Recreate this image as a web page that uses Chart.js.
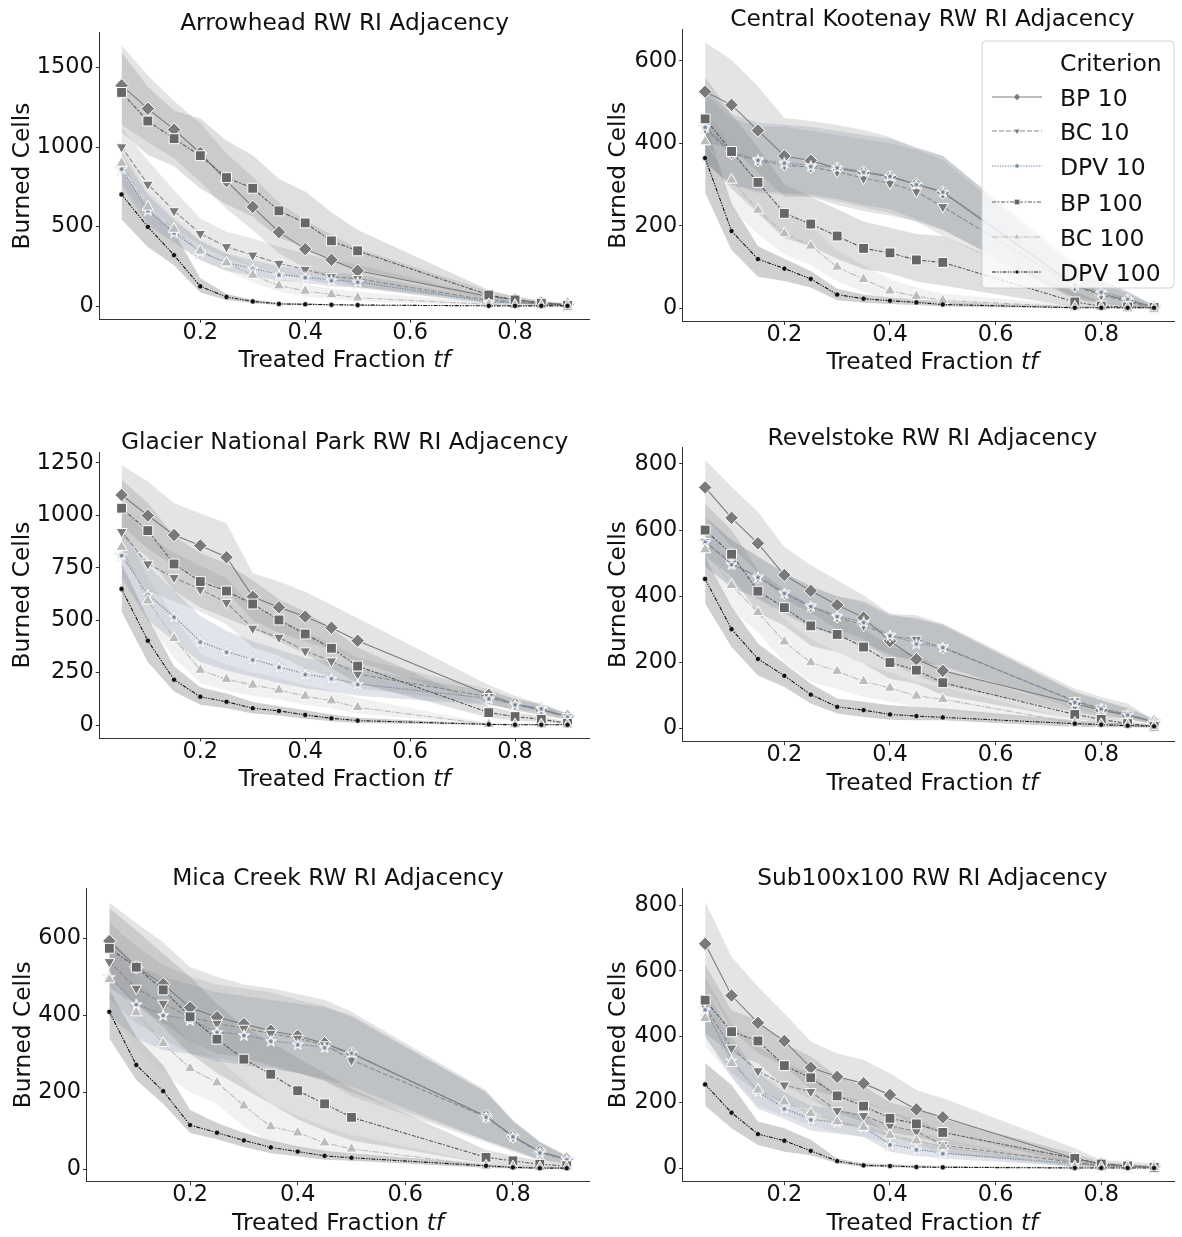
<!DOCTYPE html>
<html><head><meta charset="utf-8">
<script src="https://cdn.jsdelivr.net/npm/chart.js@4/dist/chart.umd.min.js"></script>
<style>
html,body{margin:0;padding:0;background:#fff;overflow:hidden;width:1182px;height:1237px;position:relative}
canvas{position:absolute}
</style></head><body>
<script>
// ---------- DATA ----------
const xValues = [0.05,0.1,0.15,0.2,0.25,0.3,0.35,0.4,0.45,0.5,0.75,0.8,0.85,0.9];
const xTicks = [0.2,0.4,0.6,0.8];
const seriesNames = ['BP 10','BC 10','DPV 10','BP 100','BC 100','DPV 100'];
const legendTitle = 'Criterion';
const panelTitles = ['Arrowhead RW RI Adjacency','Central Kootenay RW RI Adjacency','Glacier National Park RW RI Adjacency','Revelstoke RW RI Adjacency','Mica Creek RW RI Adjacency','Sub100x100 RW RI Adjacency'];
const xAxisLabel = 'Treated Fraction ';
const xAxisLabelItalic = 'tf';
const yAxisLabel = 'Burned Cells';
const yTickLists = [[0,500,1000,1500],[0,200,400,600],[0,250,500,750,1000,1250],[0,200,400,600,800],[0,200,400,600],[0,200,400,600,800]];

// rows: BP 10, BC 10, DPV 10, BP 100, BC 100, DPV 100
const arrowheadMean = [
 [1388,1242,1110,963,787,624,465,358,291,222,60,40,20,10],
 [1001,766,599,456,373,320,268,230,184,172,35,25,15,8],
 [865,603,463,341,272,237,199,182,163,153,25,20,12,8],
 [1344,1164,1053,946,808,741,599,523,410,347,69,38,17,4],
 [900,624,484,347,272,195,128,94,73,52,10,5,3,2],
 [702,498,320,124,57,29,13,11,8,6,1,1,1,1]];
const arrowheadLow = [
 [1140,1030,930,780,610,478,330,240,180,120,30,18,8,3],
 [880,640,490,380,300,250,200,170,135,120,18,12,8,3],
 [760,510,400,290,220,190,160,145,125,115,12,10,6,4],
 [1095,950,880,740,640,561,430,370,280,230,42,20,8,1],
 [800,540,400,290,220,150,90,60,45,30,3,1,1,0],
 [545,372,257,85,38,18,6,5,3,2,0,0,0,0]];
const arrowheadHigh = [
 [1640,1450,1290,1150,960,812,650,540,450,360,95,60,35,18],
 [1120,917,729,551,467,425,373,330,290,260,60,40,25,14],
 [960,700,540,410,330,290,250,230,210,200,45,32,20,12],
 [1595,1380,1230,1180,1040,948,800,720,590,478,100,60,30,10],
 [1000,720,560,410,330,250,175,135,110,90,20,10,6,4],
 [855,613,468,174,75,40,20,16,12,9,3,2,2,2]];

const kootenayMean = [
 [525,493,431,369,358,339,329,319,300,281,55,35,19,3],
 [436,375,358,347,342,331,315,303,283,246,53,32,15,2],
 [440,378,360,353,345,342,331,321,301,283,58,40,23,2],
 [459,380,305,230,204,175,145,134,117,111,15,5,3,2],
 [404,311,238,181,151,100,70,42,29,19,3,2,1,1],
 [364,187,119,96,71,33,23,18,14,9,1,1,1,1]];
const kootenayLow = [
 [400,390,330,270,270,250,235,225,210,190,20,10,4,0],
 [350,300,280,275,270,260,245,230,210,175,25,12,5,0],
 [350,300,285,280,275,265,250,240,215,190,25,15,8,0],
 [360,290,230,170,150,120,95,85,65,55,3,1,0,0],
 [330,240,180,130,105,65,40,20,12,8,0,0,0,0],
 [280,141,76,66,50,19,13,10,8,4,0,0,0,0]];
const kootenayHigh = [
 [645,602,538,461,454,444,432,415,388,369,110,70,40,8],
 [520,460,440,440,430,420,410,400,385,360,95,60,35,6],
 [530,470,450,445,440,430,420,410,390,370,100,70,40,6],
 [560,470,390,300,270,240,210,195,180,175,40,15,8,4],
 [480,390,300,240,200,140,105,70,50,35,8,4,2,2],
 [450,254,150,120,90,47,33,26,21,16,3,2,2,2]];

const glacierMean = [
 [1097,999,906,856,800,612,561,517,464,402,143,100,72,40],
 [922,768,703,647,584,461,418,353,305,243,135,95,72,40],
 [811,623,517,398,350,313,278,243,223,196,127,99,80,40],
 [1034,927,768,684,639,577,501,434,366,281,59,40,27,8],
 [848,593,413,262,218,191,167,138,116,84,3,2,2,1],
 [649,402,216,135,111,80,67,48,32,21,3,1,1,1]];
const glacierLow = [
 [950,840,760,700,640,500,440,400,360,300,100,70,45,25],
 [800,640,590,540,480,370,330,270,230,175,100,70,50,25],
 [700,500,400,300,260,230,200,175,160,140,95,75,60,25],
 [900,800,640,560,510,460,400,340,270,200,35,22,14,3],
 [730,490,320,200,165,140,120,95,80,55,0,0,0,0],
 [540,300,160,96,80,55,45,30,18,10,0,0,0,0]];
const glacierHigh = [
 [1240,1161,1058,1010,962,724,684,636,573,509,191,140,100,55],
 [1050,900,820,760,700,560,510,440,390,320,170,125,95,55],
 [930,760,640,520,450,400,360,320,300,270,160,125,100,55],
 [1170,1060,900,820,770,690,600,540,460,370,90,60,40,15],
 [960,700,520,340,290,250,225,190,165,130,8,5,4,3],
 [770,510,280,180,150,110,90,70,50,35,6,3,2,2]];

const revelstokeMean = [
 [729,637,560,464,416,373,335,264,209,174,75,55,39,19],
 [565,499,457,408,368,337,312,279,269,244,83,60,42,19],
 [565,497,459,410,370,340,322,282,257,246,80,60,42,21],
 [600,527,415,365,310,284,246,199,176,138,42,27,14,6],
 [541,433,351,262,199,173,142,122,98,88,16,12,9,5],
 [452,300,210,159,102,65,55,42,37,33,14,11,8,6]];
const revelstokeLow = [
 [640,550,470,390,350,300,270,200,160,130,50,35,25,12],
 [490,430,390,345,305,280,250,220,205,185,60,40,28,12],
 [490,425,395,350,310,280,260,225,200,190,58,40,28,13],
 [520,460,350,310,250,230,195,150,135,100,28,17,8,3],
 [470,360,290,200,140,120,95,80,65,55,8,6,5,3],
 [378,246,160,125,75,45,34,26,24,24,4,4,3,2]];
const revelstokeHigh = [
 [812,731,655,549,494,448,403,347,342,317,120,95,75,24],
 [640,570,520,470,430,400,380,340,335,310,110,85,60,28],
 [640,570,520,470,430,400,385,345,330,315,110,85,62,28],
 [680,600,480,420,370,340,300,250,220,180,60,40,22,10],
 [610,510,420,330,270,230,195,170,140,125,25,18,13,8],
 [519,368,257,196,135,90,80,70,65,60,24,18,14,10]];

const micaMean = [
 [593,525,481,420,395,377,360,346,327,301,138,86,46,26],
 [539,470,431,395,379,366,353,340,323,284,136,84,44,24],
 [500,429,401,388,357,349,334,325,317,303,137,86,44,26],
 [574,525,466,396,338,286,247,204,170,135,31,22,13,9],
 [493,407,327,262,225,165,111,95,69,53,9,7,5,5],
 [409,271,203,115,95,75,57,46,35,30,9,5,3,3]];
const micaLow = [
 [500,430,380,330,300,290,270,250,230,200,75,50,25,15],
 [440,380,340,300,290,275,265,250,230,190,70,45,22,14],
 [400,340,310,300,280,270,260,250,235,215,75,50,25,15],
 [470,430,370,300,250,210,170,130,100,75,15,10,6,4],
 [400,320,250,200,170,110,70,55,40,25,3,2,2,2],
 [340,232,170,94,78,58,42,34,25,22,4,2,1,1]];
const micaHigh = [
 [692,640,590,525,500,480,470,455,440,409,206,128,72,35],
 [640,580,530,500,480,470,460,440,425,395,200,125,70,33],
 [600,530,500,480,460,450,440,430,420,400,200,125,70,35],
 [678,620,560,500,430,370,330,290,250,210,50,35,22,15],
 [590,500,410,330,290,230,170,140,110,90,15,12,9,8],
 [466,344,270,154,120,95,75,60,48,42,14,9,6,5]];

const subMean = [
 [682,525,442,387,306,278,258,223,179,155,30,13,7,4],
 [491,365,296,253,233,175,160,129,112,71,17,10,7,4],
 [483,329,233,182,149,140,125,73,58,46,14,7,5,4],
 [511,415,387,312,275,220,189,152,135,109,30,13,7,3],
 [456,319,238,202,167,142,125,101,84,66,5,3,3,3],
 [255,169,104,84,53,22,9,7,4,3,1,1,1,1]];
const subLow = [
 [560,420,350,310,240,215,200,170,130,110,12,5,3,1],
 [400,290,230,195,180,135,120,95,75,45,8,4,3,1],
 [400,275,180,150,115,105,95,50,38,30,6,3,2,1],
 [410,350,320,250,210,170,140,110,95,75,18,6,3,1],
 [370,280,190,160,130,110,95,75,60,45,2,1,1,1],
 [190,122,71,50,40,15,4,3,2,1,0,0,0,0]];
const subHigh = [
 [810,643,552,471,385,349,329,289,238,213,61,25,20,15],
 [580,440,370,320,290,220,205,170,150,110,30,16,12,8],
 [560,400,290,230,190,180,160,100,85,70,24,13,9,7],
 [620,480,450,380,340,280,250,200,180,150,45,20,12,6],
 [540,380,290,250,210,180,160,130,110,90,10,6,5,5],
 [320,253,142,122,87,30,15,12,9,7,3,2,2,2]];

const panelMeans = [arrowheadMean, kootenayMean, glacierMean, revelstokeMean, micaMean, subMean];
const panelLows  = [arrowheadLow, kootenayLow, glacierLow, revelstokeLow, micaLow, subLow];
const panelHighs = [arrowheadHigh, kootenayHigh, glacierHigh, revelstokeHigh, micaHigh, subHigh];

// ---------- STYLE / LAYOUT ----------
const FONT = "'DejaVu Sans'";
const TICK_SIZE = 22.4, LABEL_SIZE = 23.3, LEGEND_SIZE = 23.5;
const TXT = '#111';
const lineColors = ['#7c7c7c','#8a8a8a','#6f829d','#585858','#b9b9b9','#151515'];
const markerFill = ['#7a7a7a','#7a7a7a','#6a7f9c','#676767','#bcbcbc','#111111'];
const bandColors = ['rgba(122,122,122,0.2)','rgba(138,138,138,0.2)','rgba(106,127,156,0.2)','rgba(96,96,96,0.2)','rgba(185,185,185,0.2)','rgba(20,20,20,0.2)'];
const dashes = [[],[5,2],[1.3,1.3],[4,1.6,1.8,1.6],[6,1.5,1.5,1.5],[4,1.3,1.3,1.3,1.3,1.3]];

// canvas box (cx,cy,cw,ch) and axes box (L,R,T,B) in page pixels, axis limits
const layouts = [
 {cx:0,  cy:0,   cw:600, ch:420, L:99.3,  R:589.8, T:32.7,  B:319.3,  xmin:0.0075, xmax:0.9425, ymin:-83.7, ymax:1720, ylx:21},
 {cx:600,cy:0,   cw:582, ch:420, L:682.7, R:1182,  T:29,    B:321.5,  xmin:0.0075, xmax:0.9378, ymin:-32.3, ymax:677,  ylx:617},
 {cx:0,  cy:420, cw:600, ch:420, L:99.3,  R:589.8, T:452,   B:738,    xmin:0.0075, xmax:0.9425, ymin:-62,   ymax:1302, ylx:21},
 {cx:600,cy:420, cw:582, ch:420, L:682.7, R:1182,  T:447.3, B:741.7,  xmin:0.0075, xmax:0.9378, ymin:-40.6, ymax:850.5,ylx:617},
 {cx:0,  cy:840, cw:600, ch:397, L:86.5,  R:589.6, T:888,   B:1181.7, xmin:0.0075, xmax:0.9425, ymin:-32.2, ymax:730.6,ylx:22},
 {cx:600,cy:840, cw:582, ch:397, L:682.7, R:1182,  T:888,   B:1181.7, xmin:0.0075, xmax:0.9378, ymin:-40.7, ymax:851.7,ylx:617}
];

function starPath(g, x, y, R, r){
  g.beginPath();
  for (let k = 0; k < 10; k++) {
    const a = -Math.PI/2 + k*Math.PI/5, rr = (k % 2) ? r : R;
    g.lineTo(x + rr*Math.cos(a), y + rr*Math.sin(a));
  }
  g.closePath();
}
function makeStar(R, r, fill, innerScale){
  const s = 2*Math.ceil(R + 3);
  const c = document.createElement('canvas'); c.width = s; c.height = s;
  const g = c.getContext('2d');
  const cx = s/2, cy = s/2 + 0.6;
  starPath(g, cx, cy, R, r);
  g.strokeStyle = 'rgba(150,150,150,0.5)'; g.lineWidth = 0.8; g.lineJoin = 'miter'; g.stroke();
  g.fillStyle = '#ffffff'; g.fill();
  starPath(g, cx, cy, R*innerScale, r*innerScale);
  g.fillStyle = fill; g.fill();
  return c;
}
const starImg = makeStar(7.2, 3.0, '#6a7f9c', 0.45);

const pStyles = ['rectRot','triangle',starImg,'rect','triangle','circle'];
const pRadius = [6.8,6.3,6,7,6.5,2.6];
const pRot = [0,180,0,0,0,0];
const pBorderW = [1,1,0,1,1,0.6];

function pts(arr){ return xValues.map((x,i)=>({x:x, y:arr[i]})); }

function drawMarker(ctx, k, x, y, r){
  ctx.save();
  ctx.fillStyle = markerFill[k]; ctx.strokeStyle = '#fff'; ctx.lineWidth = 0.6;
  ctx.beginPath();
  if (k === 0) { ctx.moveTo(x-r,y); ctx.lineTo(x,y-r); ctx.lineTo(x+r,y); ctx.lineTo(x,y+r); ctx.closePath(); }
  else if (k === 1) { ctx.moveTo(x-r*0.87,y-r*0.5); ctx.lineTo(x+r*0.87,y-r*0.5); ctx.lineTo(x,y+r); ctx.closePath(); }
  else if (k === 2) { for (let q=0;q<10;q++){const a=-Math.PI/2+q*Math.PI/5, rr=(q%2)?r*0.42:r; ctx.lineTo(x+rr*Math.cos(a), y+rr*Math.sin(a));} ctx.closePath(); }
  else if (k === 3) { ctx.rect(x-r*0.75,y-r*0.75,r*1.5,r*1.5); }
  else if (k === 4) { ctx.moveTo(x-r*0.87,y+r*0.5); ctx.lineTo(x+r*0.87,y+r*0.5); ctx.lineTo(x,y-r); ctx.closePath(); }
  else { ctx.arc(x,y,r*0.75,0,Math.PI*2); }
  ctx.fill(); ctx.stroke();
  ctx.restore();
}

function textPlugin(p){
  const lay = layouts[p];
  return {
    id: 'txt'+p,
    afterDraw(chart){
      const ctx = chart.ctx;
      ctx.save();
      ctx.fillStyle = TXT;
      ctx.font = LABEL_SIZE + 'px ' + FONT;
      ctx.textAlign = 'center'; ctx.textBaseline = 'alphabetic';
      const cxm = (lay.L + lay.R)/2 - lay.cx;
      ctx.fillText(panelTitles[p], cxm, lay.T - 11 + 0.3645*LABEL_SIZE - lay.cy);
      const fN = LABEL_SIZE + 'px ' + FONT, fI = 'italic ' + LABEL_SIZE + 'px ' + FONT;
      ctx.font = fN; const w1 = ctx.measureText(xAxisLabel).width;
      ctx.font = fI; const w2 = ctx.measureText(xAxisLabelItalic).width;
      const x0 = cxm - (w1 + w2)/2, yb = lay.B + 39.5 + 0.3645*LABEL_SIZE - lay.cy;
      ctx.textAlign = 'left';
      ctx.font = fN; ctx.fillText(xAxisLabel, x0, yb);
      ctx.font = fI; ctx.fillText(xAxisLabelItalic, x0 + w1, yb);
      ctx.font = fN; ctx.textAlign = 'center';
      ctx.translate(lay.ylx - lay.cx, (lay.T + lay.B)/2 - lay.cy);
      ctx.rotate(-Math.PI/2);
      ctx.fillText(yAxisLabel, 0, 0.3645*LABEL_SIZE);
      ctx.restore();
      if (p === 1) drawLegend(ctx, lay);
    }
  };
}

function drawLegend(ctx, lay){
  const ox = -lay.cx, oy = -lay.cy;
  const bx = 982 + ox, by = 41 + oy, bw = 192, bh = 247, rr = 4;
  ctx.save();
  ctx.beginPath();
  ctx.moveTo(bx+rr,by); ctx.lineTo(bx+bw-rr,by); ctx.quadraticCurveTo(bx+bw,by,bx+bw,by+rr);
  ctx.lineTo(bx+bw,by+bh-rr); ctx.quadraticCurveTo(bx+bw,by+bh,bx+bw-rr,by+bh);
  ctx.lineTo(bx+rr,by+bh); ctx.quadraticCurveTo(bx,by+bh,bx,by+bh-rr);
  ctx.lineTo(bx,by+rr); ctx.quadraticCurveTo(bx,by,bx+rr,by); ctx.closePath();
  ctx.fillStyle = 'rgba(255,255,255,0.8)'; ctx.fill();
  ctx.strokeStyle = 'rgba(200,200,200,0.8)'; ctx.lineWidth = 1; ctx.stroke();
  const rowsY = [62, 97, 131, 166, 202, 237, 272];
  ctx.font = LEGEND_SIZE + 'px ' + FONT; ctx.fillStyle = TXT;
  ctx.textAlign = 'left'; ctx.textBaseline = 'alphabetic';
  ctx.fillText(legendTitle, 1060 + ox, rowsY[0] + 0.3645*LEGEND_SIZE + oy);
  for (let k = 0; k < 6; k++) {
    const y = rowsY[k+1] + oy;
    ctx.save();
    ctx.strokeStyle = lineColors[k]; ctx.lineWidth = 1.1; ctx.setLineDash(dashes[k]);
    ctx.beginPath(); ctx.moveTo(992 + ox, y); ctx.lineTo(1042 + ox, y); ctx.stroke();
    ctx.restore();
    drawMarker(ctx, k, 1017 + ox, y, k === 5 ? 2.6 : 3.6);
    ctx.fillStyle = TXT;
    ctx.fillText(seriesNames[k], 1060 + ox, rowsY[k+1] + 0.3645*LEGEND_SIZE + oy);
  }
  ctx.restore();
}

for (let p = 0; p < 6; p++) {
  const lay = layouts[p];
  const cv = document.createElement('canvas');
  cv.width = lay.cw; cv.height = lay.ch;
  cv.style.left = lay.cx + 'px'; cv.style.top = lay.cy + 'px';
  cv.style.width = lay.cw + 'px'; cv.style.height = lay.ch + 'px';
  document.body.appendChild(cv);

  const datasets = [];
  for (let k = 0; k < 6; k++) {
    datasets.push({ data: pts(panelHighs[p][k]), borderColor: 'rgba(0,0,0,0)', borderWidth: 0.01,
      pointRadius: 0, backgroundColor: bandColors[k], fill: '+1', tension: 0, order: 100 });
    datasets.push({ data: pts(panelLows[p][k]), borderColor: 'rgba(0,0,0,0)', borderWidth: 0.01,
      pointRadius: 0, fill: false, tension: 0, order: 100 });
  }
  for (let k = 0; k < 6; k++) {
    datasets.push({ label: seriesNames[k], data: pts(panelMeans[p][k]),
      borderColor: lineColors[k], borderWidth: 1.1, borderDash: dashes[k], fill: false, tension: 0,
      pointStyle: pStyles[k], pointRadius: pRadius[k], pointRotation: pRot[k],
      pointBackgroundColor: markerFill[k], pointBorderColor: '#fff', pointBorderWidth: pBorderW[k],
      order: 10 - k });
  }

  const tickFont = { family: FONT, size: TICK_SIZE, lineHeight: 1 };
  new Chart(cv, {
    type: 'line',
    data: { datasets },
    options: {
      responsive: false, animation: false, events: [],
      layout: { padding: { left: 0, top: lay.T - lay.cy, right: lay.cx + lay.cw - lay.R, bottom: lay.cy + lay.ch - lay.B - 30 } },
      plugins: { legend: { display: false }, tooltip: { enabled: false }, title: { display: false },
                 filler: { drawTime: 'beforeDatasetsDraw', propagate: false } },
      scales: {
        x: { type: 'linear', min: lay.xmin, max: lay.xmax,
             afterBuildTicks: s => { s.ticks = xTicks.map(v => ({ value: v })); },
             afterFit: s => { s.height = 30; },
             grid: { drawOnChartArea: false, tickLength: 3.5, color: '#333', lineWidth: 1 },
             border: { display: true, color: '#333', width: 1 },
             ticks: { font: tickFont, color: TXT, padding: -1, maxRotation: 0, minRotation: 0, autoSkip: false,
                      callback: v => Number(v).toFixed(1) } },
        y: { type: 'linear', min: lay.ymin, max: lay.ymax,
             afterBuildTicks: s => { s.ticks = yTickLists[p].map(v => ({ value: v })); },
             afterFit: s => { s.width = lay.L - lay.cx; },
             grid: { drawOnChartArea: false, tickLength: 3.5, color: '#333', lineWidth: 1 },
             border: { display: true, color: '#333', width: 1 },
             ticks: { font: tickFont, color: TXT, padding: 2, autoSkip: false,
                      callback: v => String(v) } }
      }
    },
    plugins: [textPlugin(p)]
  });
}
</script>
</body></html>
